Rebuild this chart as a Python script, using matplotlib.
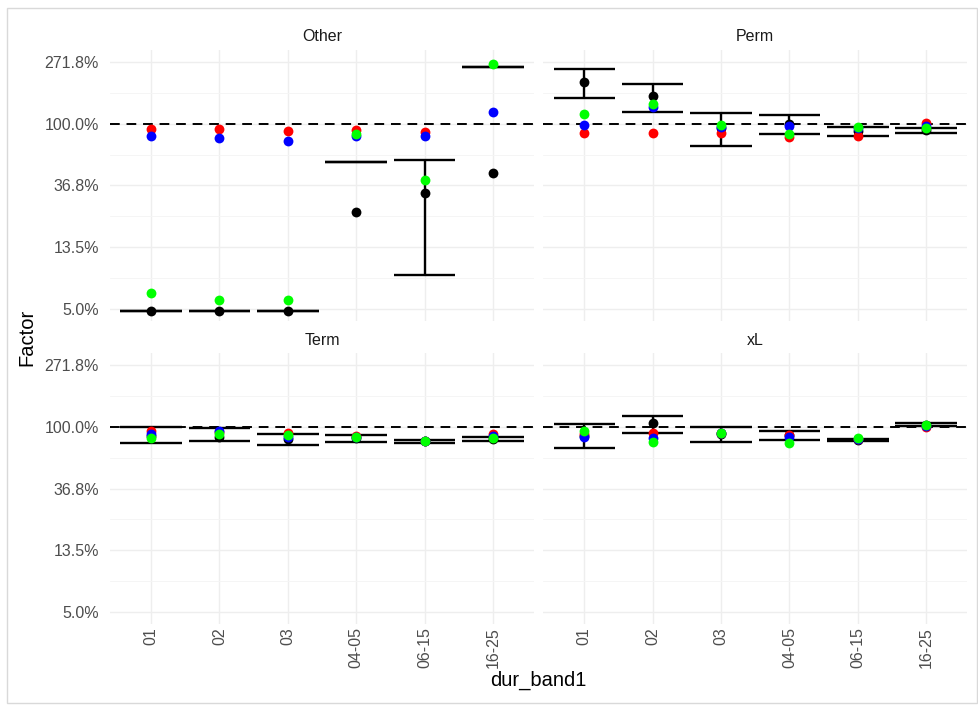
import numpy as np
import matplotlib.pyplot as plt
from matplotlib.patches import Rectangle

plt.rcParams['font.family'] = ['Liberation Sans', 'DejaVu Sans']

bands = ['01', '02', '03', '04-05', '06-15', '16-25']
facets = ['Other', 'Perm', 'Term', 'xL']

# black point with its interval, then the three coloured estimates
other_mid = [0.048, 0.048, 0.048, 0.237, 0.323, 0.449]
other_lo = [0.048, 0.048, 0.048, 0.534, 0.086, 2.52]
other_hi = [0.048, 0.048, 0.048, 0.534, 0.558, 2.52]
other_red = [0.922, 0.912, 0.888, 0.902, 0.878, np.nan]
other_blue = [0.819, 0.797, 0.755, 0.815, 0.815, 1.215]
other_green = [0.064, 0.057, 0.057, 0.841, 0.401, 2.646]

perm_mid = [1.966, 1.557, 0.927, 0.995, 0.888, 0.898]
perm_lo = [1.525, 1.215, 0.700, 0.841, 0.823, 0.860]
perm_hi = [2.413, 1.914, 1.183, 1.151, 0.947, 0.927]
perm_red = [0.855, 0.864, 0.855, 0.810, 0.819, 1.011]
perm_blue = [0.984, 1.318, 0.951, 0.963, 0.927, 0.963]
perm_green = [1.170, 1.383, 0.973, 0.841, 0.947, 0.937]

term_mid = [0.864, 0.855, 0.819, 0.841, 0.793, 0.828]
term_lo = [0.772, 0.797, 0.751, 0.788, 0.776, 0.801]
term_hi = [0.995, 0.989, 0.898, 0.878, 0.810, 0.855]
term_red = [0.937, 0.922, 0.912, 0.860, 0.801, 0.892]
term_blue = [0.888, 0.937, 0.845, 0.845, 0.801, 0.864]
term_green = [0.837, 0.892, 0.878, 0.855, 0.801, 0.832]

xl_mid = [0.864, 1.073, 0.892, 0.874, 0.810, 1.033]
xl_lo = [0.715, 0.902, 0.788, 0.810, 0.797, 1.016]
xl_hi = [1.044, 1.189, 1.005, 0.943, 0.819, 1.061]
xl_red = [0.888, 0.912, 0.900, 0.878, 0.819, 1.005]
xl_blue = [0.845, 0.832, 0.900, 0.845, 0.819, 1.020]
xl_green = [0.937, 0.780, 0.902, 0.776, 0.837, 1.027]

data = {
    'Other': (other_mid, other_lo, other_hi, other_red, other_blue, other_green),
    'Perm': (perm_mid, perm_lo, perm_hi, perm_red, perm_blue, perm_green),
    'Term': (term_mid, term_lo, term_hi, term_red, term_blue, term_green),
    'xL': (xl_mid, xl_lo, xl_hi, xl_red, xl_blue, xl_green),
}

ytick_vals = np.exp(np.arange(-3, 2))
ytick_labels = ['5.0%', '13.5%', '36.8%', '100.0%', '271.8%']

fig = plt.figure(figsize=(9.79, 7.13), dpi=100)

# panel boxes in figure fractions (left, bottom, width, height)
boxes = {
    'Other': (0.1124, 0.5498, 0.4331, 0.3805),
    'Perm': (0.5549, 0.5498, 0.4331, 0.3805),
    'Term': (0.1124, 0.1244, 0.4331, 0.3805),
    'xL': (0.5549, 0.1244, 0.4331, 0.3805),
}

x = np.arange(len(bands))
for name in facets:
    ax = fig.add_axes(boxes[name])
    mid, lo, hi, red, blue, green = [np.array(v, dtype=float) for v in data[name]]

    ax.set_yscale('log')
    ax.set_ylim(np.exp(-3.2), np.exp(1.2))
    ax.set_xlim(-0.6, len(bands) - 0.4)

    ax.set_yticks(ytick_vals)
    ax.set_yticks(np.exp(np.arange(-2.5, 1.0, 1.0)), minor=True)
    ax.set_xticks(x)
    ax.grid(True, which='major', color='#eeeeee', lw=1.0)
    ax.grid(True, which='minor', axis='y', color='#f4f4f4', lw=0.6)
    ax.set_axisbelow(True)
    for s in ax.spines.values():
        s.set_visible(False)
    ax.tick_params(which='both', length=0)
    ax.tick_params(axis='y', pad=8, labelsize=11.5, labelcolor='#4d4d4d')
    ax.tick_params(axis='x', pad=2, labelsize=11.5, labelcolor='#4d4d4d')

    if name in ('Other', 'Term'):
        ax.set_yticklabels(ytick_labels)
    else:
        ax.set_yticklabels([])
    ax.yaxis.set_minor_formatter(plt.NullFormatter())
    if name in ('Term', 'xL'):
        ax.set_xticklabels(bands, rotation=90, va='top', ha='center')
    else:
        ax.set_xticklabels([])

    ax.axhline(1.0, color='black', lw=1.4, ls=(0, (5, 3.5)), zorder=2)

    ax.vlines(x, lo, hi, color='black', lw=1.7, zorder=3)
    ax.hlines(lo, x - 0.45, x + 0.45, color='black', lw=1.7, zorder=3)
    ax.hlines(hi, x - 0.45, x + 0.45, color='black', lw=1.7, zorder=3)

    ax.scatter(x, mid, s=50, color='black', zorder=4, linewidths=0)
    ax.scatter(x, red, s=50, color='#ff0000', zorder=5, linewidths=0)
    ax.scatter(x, blue, s=50, color='#0000ff', zorder=6, linewidths=0)
    ax.scatter(x, green, s=50, color='#00ff00', zorder=7, linewidths=0)

    ax.set_title(name, fontsize=11.5, color='#1a1a1a', pad=6)

fig.text(0.0276, 0.527, 'Factor', rotation=90, ha='center', va='center', fontsize=14.5)
fig.text(0.550, 0.046, 'dur_band1', ha='center', va='center', fontsize=14.5)

fig.patches.append(Rectangle((0.0072, 0.014), 0.9908, 0.975, transform=fig.transFigure,
                             fill=False, edgecolor='#d9d9d9', lw=1.0))

fig.savefig('out.png', dpi=100)
